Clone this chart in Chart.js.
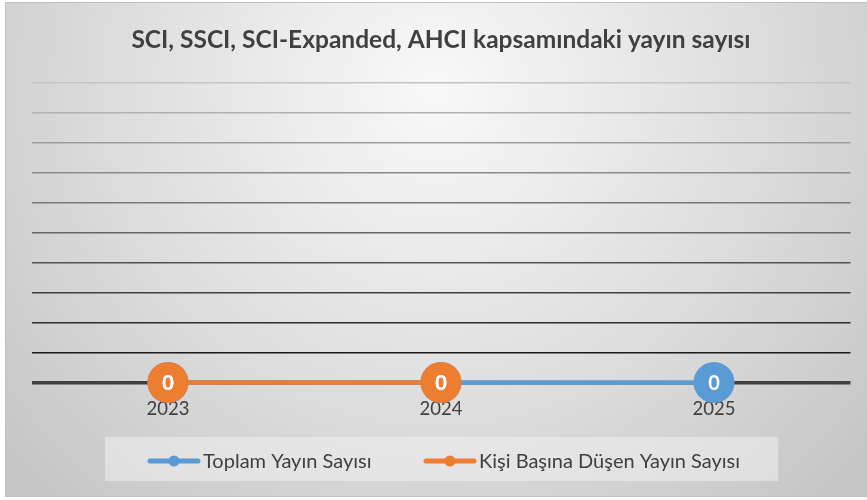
<!DOCTYPE html>
<html>
<head>
<meta charset="utf-8">
<script src="https://cdn.jsdelivr.net/npm/chart.js@4/dist/chart.umd.min.js"></script>
<style>
html,body{margin:0;padding:0;background:#fff;}
#wrap{width:867px;height:500px;position:relative;}
</style>
</head>
<body>
<div id="wrap"><canvas id="c" width="867" height="500"></canvas></div>
<script>
const titleText = "SCI, SSCI, SCI-Expanded, AHCI kapsamındaki yayın sayısı";
const categories = ["2023", "2024", "2025"];
const seriesNames = ["Toplam Yayın Sayısı", "Kişi Başına Düşen Yayın Sayısı"];
const toplamValues = [0, 0, 0];
const kisiBasinaValues = [0, 0, null];
const seriesColors = ["#5b9bd5", "#ed7d31"];
const yMax = 1;
const yStep = 0.1;

const FONT = "Lato, 'Open Sans', sans-serif";

function lerpGray(t){ // t=0 dark, t=1 light
  const a = 26, b = 196;
  const v = Math.round(a + (b - a) * t);
  return `rgb(${v},${v},${v})`;
}

const bgPlugin = {
  id: 'bg',
  beforeDraw(chart){
    const ctx = chart.ctx;
    ctx.save();
    const g = ctx.createRadialGradient(436, 90, 10, 436, 90, 560);
    g.addColorStop(0, '#f8f8f8');
    g.addColorStop(0.55, '#dedede');
    g.addColorStop(1, '#c6c6c6');
    ctx.fillStyle = g;
    ctx.fillRect(5, 2, 862, 495);
    ctx.strokeStyle = '#c0c0c0';
    ctx.lineWidth = 1;
    ctx.strokeRect(5.5, 2.5, 862, 494);
    // legend box
    ctx.fillStyle = 'rgba(240,240,240,0.55)';
    ctx.fillRect(105, 437, 673, 44);
    ctx.restore();
  }
};

const labelPlugin = {
  id: 'pointLabels',
  afterDatasetsDraw(chart){
    const ctx = chart.ctx;
    ctx.save();
    ctx.font = "bold 20px " + FONT;
    ctx.fillStyle = '#ffffff';
    ctx.textAlign = 'center';
    ctx.textBaseline = 'middle';
    chart.data.datasets.forEach((ds, di) => {
      const meta = chart.getDatasetMeta(di);
      meta.data.forEach((pt, i) => {
        if (ds.data[i] === null || ds.data[i] === undefined) return;
        ctx.fillText(String(ds.data[i]), pt.x, pt.y + 1);
      });
    });
    ctx.restore();
  }
};

const legendPlugin = {
  id: 'customLegend',
  afterDraw(chart){
    const ctx = chart.ctx;
    ctx.save();
    ctx.font = "20px " + FONT;
    ctx.textBaseline = 'middle';
    ctx.textAlign = 'left';
    const y = 461;
    const starts = [148, 424];
    chart.data.datasets.forEach((ds, di) => {
      const x = starts[di];
      ctx.strokeStyle = ds.borderColor;
      ctx.lineWidth = 5;
      ctx.lineCap = 'round';
      ctx.beginPath();
      ctx.moveTo(x + 2, y);
      ctx.lineTo(x + 50, y);
      ctx.stroke();
      ctx.fillStyle = ds.borderColor;
      ctx.beginPath();
      ctx.arc(x + 26, y, 5.5, 0, Math.PI * 2);
      ctx.fill();
      ctx.fillStyle = '#404040';
      ctx.fillText(ds.label, x + 55, y + 1);
    });
    ctx.restore();
  }
};

new Chart(document.getElementById('c'), {
  type: 'line',
  data: {
    labels: categories,
    datasets: [
      {
        label: seriesNames[0],
        data: toplamValues,
        borderColor: seriesColors[0],
        backgroundColor: seriesColors[0],
        pointBackgroundColor: seriesColors[0],
        pointBorderColor: seriesColors[0],
        borderWidth: 4.5,
        pointRadius: 20.5,
        pointBorderWidth: 0,
        pointHoverRadius: 20.5,
        spanGaps: false,
        clip: false,
        order: 2
      },
      {
        label: seriesNames[1],
        data: kisiBasinaValues,
        borderColor: seriesColors[1],
        backgroundColor: seriesColors[1],
        pointBackgroundColor: seriesColors[1],
        pointBorderColor: seriesColors[1],
        borderWidth: 4.5,
        pointRadius: 20.5,
        pointBorderWidth: 0,
        pointHoverRadius: 20.5,
        spanGaps: false,
        clip: false,
        order: 1
      }
    ]
  },
  options: {
    responsive: false,
    animation: false,
    devicePixelRatio: 1,
    layout: { autoPadding: false, padding: { left: 31.5, right: 16.5, top: 0, bottom: 63.4 } },
    plugins: {
      legend: { display: false },
      tooltip: { enabled: false },
      title: {
        display: true,
        text: titleText,
        color: '#404040',
        font: { family: FONT, size: 24.5, weight: 'bold' },
        padding: { top: 25.3, bottom: 28.3 }
      }
    },
    scales: {
      x: {
        offset: true,
        grid: { display: false, drawTicks: false },
        border: { display: false },
        ticks: {
          color: '#404040',
          font: { family: FONT, size: 18.5 },
          padding: 16,
          maxRotation: 0
        }
      },
      y: {
        min: 0,
        max: yMax,
        ticks: { display: false, stepSize: yStep },
        border: { display: false },
        grid: {
          drawTicks: false,
          color: (c) => c.index === 0 ? '#404040' : lerpGray((c.index - 1) / 9),
          lineWidth: (c) => c.index === 0 ? 3.5 : 1.5
        }
      }
    }
  },
  plugins: [bgPlugin, labelPlugin, legendPlugin]
});
</script>
</body>
</html>
